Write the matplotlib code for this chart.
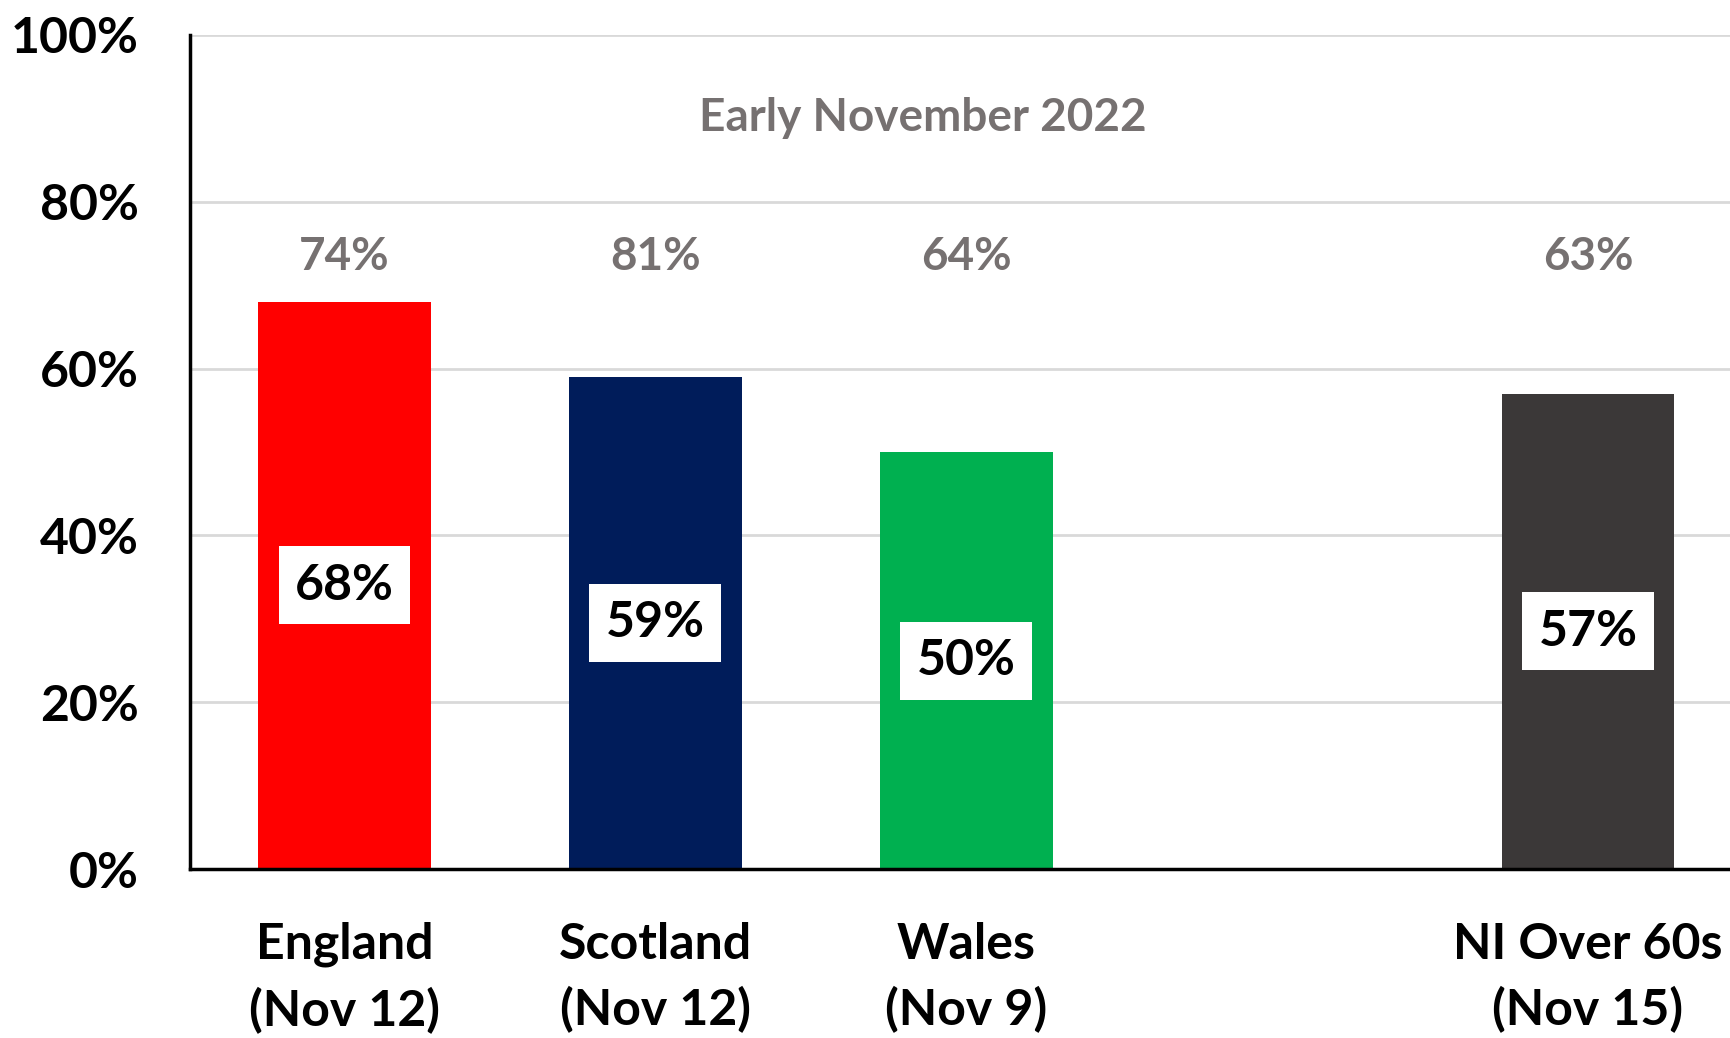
import numpy as np
import matplotlib.pyplot as plt

plt.rcParams['font.family'] = ['Lato', 'DejaVu Sans']
plt.rcParams['font.weight'] = 'bold'

# booster uptake, early November 2022 (empty slot between Wales and NI)
categories = ["England\n(Nov 12)", "Scotland\n(Nov 12)", "Wales\n(Nov 9)", "", "NI Over 60s\n(Nov 15)"]
values = [68, 59, 50, np.nan, 57]
top_labels = ["74%", "81%", "64%", "", "63%"]
colors = ["#FF0000", "#001C5A", "#00B050", "#FFFFFF", "#3B3838"]

grey = "#767171"

fig = plt.figure(figsize=(17.31, 10.38), dpi=100)
ax = fig.add_axes([0.1098, 0.1628, 0.8902, 0.8035])

x = np.arange(len(categories))
ax.bar(x, values, width=0.555, color=colors, zorder=2)

# value labels in white boxes at half bar height
for xi, v in zip(x, values):
    if np.isnan(v):
        continue
    ax.text(xi, v / 2, f"{v:.0f}%", ha="center", va="center", fontsize=36,
            fontweight="bold", color="black", zorder=3,
            bbox=dict(facecolor="white", edgecolor="none", pad=12))

# grey labels above the bars
for xi, lab in zip(x, top_labels):
    if lab:
        ax.text(xi, 73.4, lab, ha="center", va="center", fontsize=33,
                fontweight="bold", color=grey)

ax.text(1.86, 90.1, "Early November 2022", ha="center", va="center",
        fontsize=33, fontweight="bold", color=grey)

ax.set_xlim(-0.497, 4.46)
ax.set_ylim(0, 100)
ax.set_yticks(np.arange(0, 101, 20))
ax.set_yticklabels([f"{t}%" for t in range(0, 101, 20)])
ax.set_xticks(x)
ax.set_xticklabels(categories, linespacing=1.5)

ax.tick_params(axis="y", length=0, pad=37, labelsize=36)
ax.tick_params(axis="x", length=0, pad=38, labelsize=36)

ax.grid(axis="y", color="#D9D9D9", linewidth=2, zorder=0)
ax.set_axisbelow(True)
for s in ["top", "right"]:
    ax.spines[s].set_visible(False)
ax.spines["left"].set_linewidth(2.5)
ax.spines["bottom"].set_linewidth(2.5)
ax.spines["left"].set_zorder(4)
ax.spines["bottom"].set_zorder(4)

fig.savefig("out.png", dpi=100)
